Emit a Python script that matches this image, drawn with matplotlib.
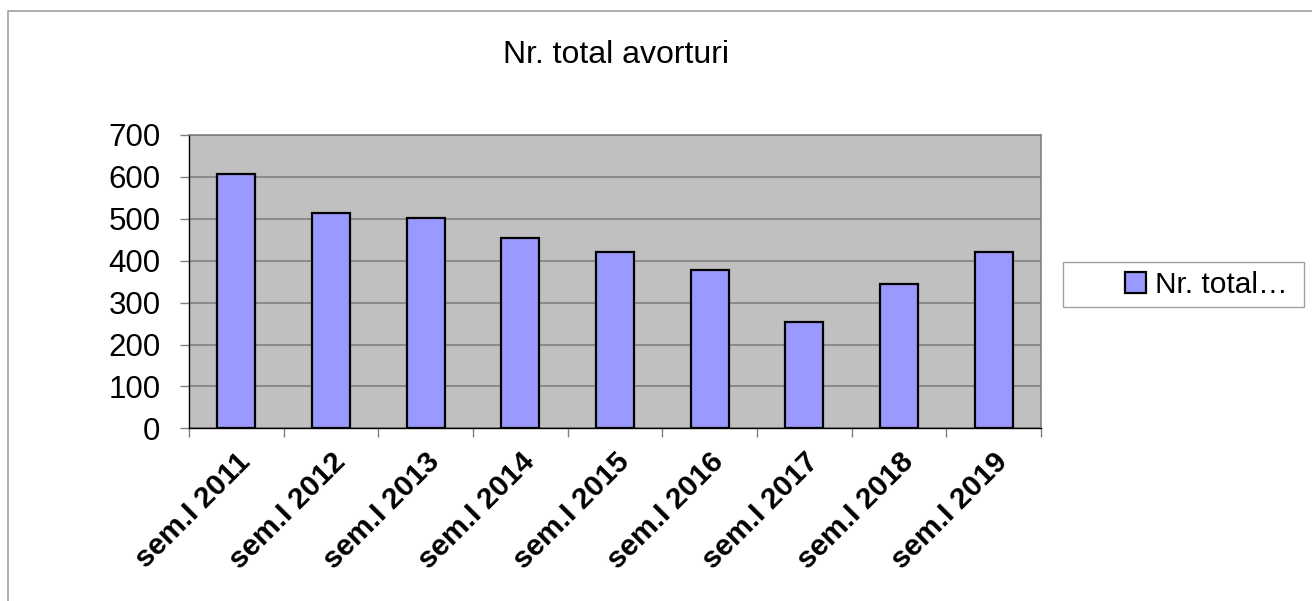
import matplotlib
matplotlib.use("Agg")
import matplotlib.pyplot as plt
from matplotlib.patches import Rectangle

categories = ["sem.I 2011", "sem.I 2012", "sem.I 2013", "sem.I 2014", "sem.I 2015",
              "sem.I 2016", "sem.I 2017", "sem.I 2018", "sem.I 2019"]
values = [608, 514, 503, 453, 420, 378, 254, 344, 421]
title = "Nr. total avorturi"
legend_label = "Nr. total\u2026"
yticks = [0, 100, 200, 300, 400, 500, 600, 700]

plt.rcParams['font.family'] = ['Liberation Sans', 'DejaVu Sans']

fig = plt.figure(figsize=(13.12, 6.01), dpi=100)
ax = fig.add_axes([189/1312, 1 - 428.3/601, (1041-189)/1312, (428.3-135)/601])
ax.set_facecolor('#C0C0C0')

x = list(range(len(categories)))
bars = ax.bar(x, values, width=0.4, color='#9999FF', edgecolor='black', linewidth=1.6,
              label=legend_label, zorder=3)

ax.set_xlim(-0.5, len(categories) - 0.5)
ax.set_ylim(0, 700)
ax.set_yticks(yticks)
ax.set_yticklabels([str(v) for v in yticks], fontsize=22.5)
ax.yaxis.grid(True, color='#808080', linewidth=1.2, zorder=0)
ax.set_axisbelow(True)

ax.set_xticks(x)
ax.set_xticklabels(categories, rotation=45, ha='right', va='top', rotation_mode='anchor',
                   fontsize=21.5, fontweight='bold')
ax.tick_params(axis='x', which='major', length=0, pad=14)
ax.set_xticks([i + 0.5 for i in range(-1, len(categories))], minor=True)
ax.tick_params(axis='x', which='minor', length=6.5, color='#808080', width=1)
ax.tick_params(axis='y', length=6.5, color='#808080', width=1, pad=14)

for s in ['top', 'right']:
    ax.spines[s].set_color('#808080')
    ax.spines[s].set_linewidth(1.2)
for s in ['left', 'bottom']:
    ax.spines[s].set_color('black')
    ax.spines[s].set_linewidth(1.0)

fig.text(616/1312, 1 - 55/601, title, ha='center', va='center', fontsize=23)

# figure border
fig.patches.append(Rectangle((8/1312, -0.05), 1.1, 1 - 11/601 + 0.05, transform=fig.transFigure,
                             fill=False, edgecolor='#A0A0A0', linewidth=1.2))

# legend box
fig.patches.append(Rectangle((1063/1312, 1 - 307/601), (1304-1063)/1312, (307-262)/601,
                             transform=fig.transFigure, facecolor='white',
                             edgecolor='#A0A0A0', linewidth=1.0, zorder=1))
fig.legend(handles=[bars], labels=[legend_label], loc='center left',
           bbox_to_anchor=(1125/1312, 1 - 285/601), frameon=False, fontsize=21.5,
           handlelength=0.7, handleheight=0.7, handletextpad=0.3, borderpad=0, borderaxespad=0)

fig.savefig("out.png", dpi=100)
